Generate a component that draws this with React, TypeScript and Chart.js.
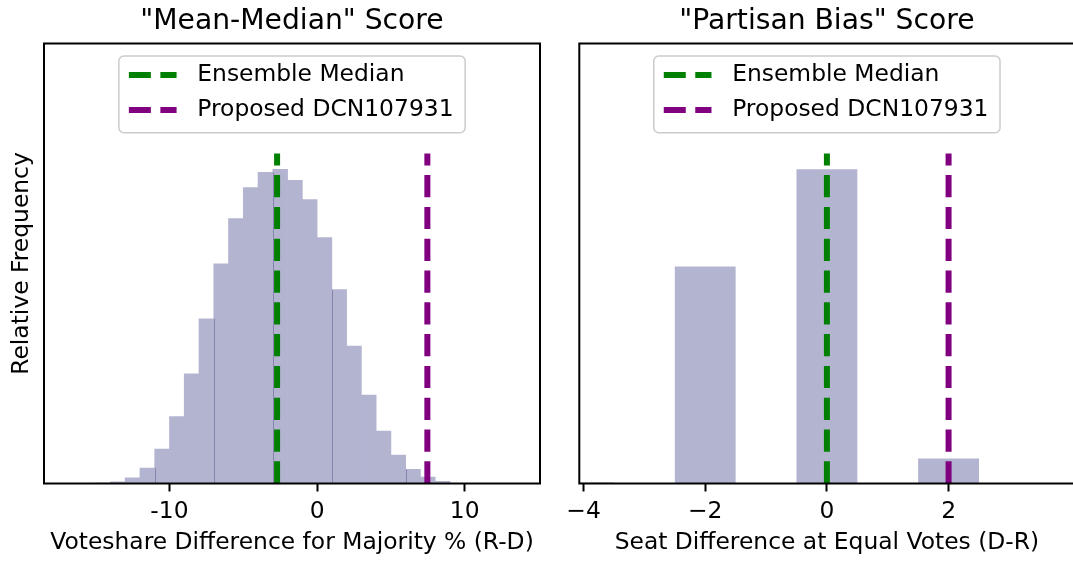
import React, { useEffect, useRef } from 'react';
import { Chart, registerables } from 'chart.js';

Chart.register(...registerables);

const FONT = '"DejaVu Sans", "Liberation Sans", sans-serif';
const GREEN = '#008000';
const PURPLE = '#800080';
const BAR_COLOR = 'rgb(179, 180, 208)';
const SEAM_COLOR = 'rgba(95, 95, 145, 0.55)';
const FS = 23.4;
const TITLE_FS = 28.2;

// ---- text ----
const leftTitle = '"Mean-Median" Score';
const rightTitle = '"Partisan Bias" Score';
const leftXLabel = 'Voteshare Difference for Majority % (R-D)';
const rightXLabel = 'Seat Difference at Equal Votes (D-R)';
const yLabel = 'Relative Frequency';
const legendLabels = ['Ensemble Median', 'Proposed DCN107931'];

// ---- left panel data ----
const leftBinCenters = [
  -14.5, -13.5, -12.5, -11.5, -10.5, -9.5, -8.5, -7.5, -6.5, -5.5, -4.5, -3.5,
  -2.5, -1.5, -0.5, 0.5, 1.5, 2.5, 3.5, 4.5, 5.5, 6.5, 7.5, 8.5,
];
const leftFrequencies = [
  0.0001, 0.0005, 0.0018, 0.0049, 0.0109, 0.0212, 0.0347, 0.0521, 0.0695, 0.0838, 0.0936, 0.0984,
  0.0994, 0.0959, 0.0898, 0.0778, 0.0613, 0.0435, 0.028, 0.0166, 0.009, 0.0045, 0.002, 0.0007,
];
const leftSeamEdges = [-11, -7, -3, 1, 6];
const leftEnsembleMedian = -2.71;
const leftProposed = 7.47;
const leftTickValues = [-10, 0, 10];
const leftTickLabels = ['-10', '0', '10'];

// ---- right panel data ----
const rightBinCenters = [-4, -2, 0, 2];
const rightFrequencies = [0.002, 0.39, 0.565, 0.045];
const rightEnsembleMedian = 0;
const rightProposed = 2;
const rightTickValues = [-4, -2, 0, 2];
const rightTickLabels = ['\u22124', '\u22122', '0', '2'];

type PanelProps = {
  title: string;
  xLabel: string;
  yTitle?: string;
  centers: number[];
  values: number[];
  seams?: number[];
  median: number;
  proposed: number;
  xMin: number;
  xMax: number;
  tickValues: number[];
  tickLabels: string[];
  barPercentage: number;
  yAxisWidth: number;
  rightPad: number;
  canvasWidth: number;
  pageLeft: number;
};

function roundedRect(ctx: CanvasRenderingContext2D, x: number, y: number, w: number, h: number, r: number) {
  ctx.beginPath();
  ctx.moveTo(x + r, y);
  ctx.lineTo(x + w - r, y);
  ctx.arcTo(x + w, y, x + w, y + r, r);
  ctx.lineTo(x + w, y + h - r);
  ctx.arcTo(x + w, y + h, x + w - r, y + h, r);
  ctx.lineTo(x + r, y + h);
  ctx.arcTo(x, y + h, x, y + h - r, r);
  ctx.lineTo(x, y + r);
  ctx.arcTo(x, y, x + r, y, r);
  ctx.closePath();
}

function Panel(props: PanelProps) {
  const ref = useRef<HTMLCanvasElement | null>(null);

  useEffect(() => {
    const canvas = ref.current;
    if (!canvas) return;
    const { centers, values, seams } = props;
    const yMax = Math.max(...values) * 1.4;
    const lineTop = yMax * 0.75;

    const panelPlugin = {
      id: 'panelDecor',
      afterDatasetDraw(chart: any, args: any) {
        const ds = chart.data.datasets[args.index];
        if (ds.type !== 'bar' || !seams || seams.length === 0) return;
        const ctx = chart.ctx as CanvasRenderingContext2D;
        const xs = chart.scales.x;
        const ys = chart.scales.y;
        const w = centers[1] - centers[0];
        ctx.save();
        ctx.strokeStyle = SEAM_COLOR;
        ctx.lineWidth = 1;
        seams.forEach((e) => {
          const li = centers.findIndex((c) => Math.abs(c + w / 2 - e) < 1e-6);
          const ri = centers.findIndex((c) => Math.abs(c - w / 2 - e) < 1e-6);
          if (li < 0 || ri < 0) return;
          const h = Math.min(values[li], values[ri]);
          const px = Math.round(xs.getPixelForValue(e)) + 0.5;
          ctx.beginPath();
          ctx.moveTo(px, ys.getPixelForValue(0));
          ctx.lineTo(px, ys.getPixelForValue(h));
          ctx.stroke();
        });
        ctx.restore();
      },
      afterDatasetsDraw(chart: any) {
        const ctx = chart.ctx as CanvasRenderingContext2D;
        const ca = chart.chartArea;
        ctx.save();
        // spines
        ctx.strokeStyle = '#000';
        ctx.lineWidth = 2;
        ctx.strokeRect(ca.left, ca.top, ca.right - ca.left, ca.bottom - ca.top);

        // legend
        const items = chart.data.datasets
          .filter((d: any) => d.type === 'line')
          .map((d: any) => ({ label: d.label as string, color: d.borderColor as string }));
        ctx.font = `${FS}px ${FONT}`;
        const textW = Math.max(...items.map((it: any) => ctx.measureText(it.label).width));
        const bw = textW + 90;
        const bh = 76.7;
        const bx = (ca.left + ca.right) / 2 - bw / 2;
        const by = ca.top + 12.5;
        roundedRect(ctx, bx, by, bw, bh, 5);
        ctx.fillStyle = 'rgba(255,255,255,0.8)';
        ctx.fill();
        ctx.strokeStyle = '#cccccc';
        ctx.lineWidth = 1.5;
        ctx.stroke();
        items.forEach((it: any, i: number) => {
          const cy = by + 19 + i * 35;
          ctx.strokeStyle = it.color;
          ctx.lineWidth = 6;
          ctx.lineCap = 'butt';
          ctx.setLineDash([22, 9.5]);
          ctx.beginPath();
          ctx.moveTo(bx + 10, cy);
          ctx.lineTo(bx + 57.7, cy);
          ctx.stroke();
          ctx.setLineDash([]);
          ctx.fillStyle = '#000';
          ctx.textAlign = 'left';
          ctx.textBaseline = 'middle';
          ctx.fillText(it.label, bx + 78.4, cy - 0.5);
        });
        ctx.restore();
      },
    };

    const lineCommon = {
      type: 'line' as const,
      borderWidth: 6,
      borderDash: [22.2, 9.6],
      borderCapStyle: 'butt' as const,
      pointRadius: 0,
      pointHoverRadius: 0,
      fill: false,
      tension: 0,
    };

    const chart = new Chart(canvas, {
      type: 'bar',
      data: {
        datasets: [
          {
            ...lineCommon,
            label: legendLabels[0],
            data: [
              { x: props.median, y: 0 },
              { x: props.median, y: lineTop },
            ],
            borderColor: GREEN,
            order: 1,
          } as any,
          {
            ...lineCommon,
            label: legendLabels[1],
            data: [
              { x: props.proposed, y: 0 },
              { x: props.proposed, y: lineTop },
            ],
            borderColor: PURPLE,
            order: 2,
          } as any,
          {
            type: 'bar',
            label: 'Ensemble',
            data: centers.map((c, i) => ({ x: c, y: values[i] })),
            backgroundColor: BAR_COLOR,
            borderWidth: 0,
            barPercentage: props.barPercentage,
            categoryPercentage: 1,
            order: 3,
          } as any,
        ],
      },
      options: {
        responsive: false,
        animation: false,
        devicePixelRatio: 1,
        layout: { padding: { left: 0, right: props.rightPad, top: 0, bottom: 0 } },
        plugins: {
          legend: { display: false },
          tooltip: { enabled: false },
          title: {
            display: true,
            fullSize: false,
            text: props.title,
            color: '#000',
            font: { family: FONT, size: TITLE_FS, weight: 'normal' as any },
            padding: { top: 4.78, bottom: 4.88 },
          },
        },
        scales: {
          x: {
            type: 'linear',
            min: props.xMin,
            max: props.xMax,
            offset: false,
            afterBuildTicks: (s: any) => {
              s.ticks = props.tickValues.map((v) => ({ value: v }));
            },
            afterFit: (s: any) => {
              s.height = 80.5;
            },
            ticks: {
              autoSkip: false,
              maxRotation: 0,
              padding: 6.46,
              color: '#000',
              font: { family: FONT, size: FS },
              callback: (_v: any, i: number) => props.tickLabels[i],
            },
            grid: {
              display: true,
              offset: false,
              drawOnChartArea: false,
              drawTicks: true,
              tickLength: 8,
              tickWidth: 2,
              tickColor: '#000',
            },
            border: { display: false },
            title: {
              display: true,
              text: props.xLabel,
              color: '#000',
              font: { family: FONT, size: FS },
              padding: { top: 0, bottom: 6.96 },
            },
          },
          y: {
            type: 'linear',
            min: 0,
            max: yMax,
            afterFit: (s: any) => {
              s.width = props.yAxisWidth;
            },
            ticks: { display: false },
            grid: { display: false, drawTicks: false },
            border: { display: false },
            title: {
              display: !!props.yTitle,
              text: props.yTitle || '',
              color: '#000',
              font: { family: FONT, size: FS },
              padding: { top: 7.96, bottom: 0 },
            },
          },
        },
      } as any,
      plugins: [panelPlugin],
    });
    return () => chart.destroy();
  }, [props]);

  return (
    <canvas
      ref={ref}
      width={props.canvasWidth}
      height={564}
      style={{ position: 'absolute', left: props.pageLeft, top: 0, width: props.canvasWidth, height: 564 }}
    />
  );
}

const leftPanel: PanelProps = {
  title: leftTitle,
  xLabel: leftXLabel,
  yTitle: yLabel,
  centers: leftBinCenters,
  values: leftFrequencies,
  seams: leftSeamEdges,
  median: leftEnsembleMedian,
  proposed: leftProposed,
  xMin: -18.5,
  xMax: 15.1,
  tickValues: leftTickValues,
  tickLabels: leftTickLabels,
  barPercentage: 1,
  yAxisWidth: 44,
  rightPad: 20,
  canvasWidth: 560,
  pageLeft: 0,
};

const rightPanel: PanelProps = {
  title: rightTitle,
  xLabel: rightXLabel,
  centers: rightBinCenters,
  values: rightFrequencies,
  median: rightEnsembleMedian,
  proposed: rightProposed,
  xMin: -4.07,
  xMax: 4.07,
  tickValues: rightTickValues,
  tickLabels: rightTickLabels,
  barPercentage: 0.5,
  yAxisWidth: 39.3,
  rightPad: 25.5,
  canvasWidth: 560,
  pageLeft: 540,
};

export default function App() {
  return (
    <div
      style={{
        position: 'absolute',
        left: 0,
        top: 0,
        width: 1073,
        height: 564,
        overflow: 'hidden',
        background: '#fff',
      }}
    >
      <Panel {...leftPanel} />
      <Panel {...rightPanel} />
    </div>
  );
}
